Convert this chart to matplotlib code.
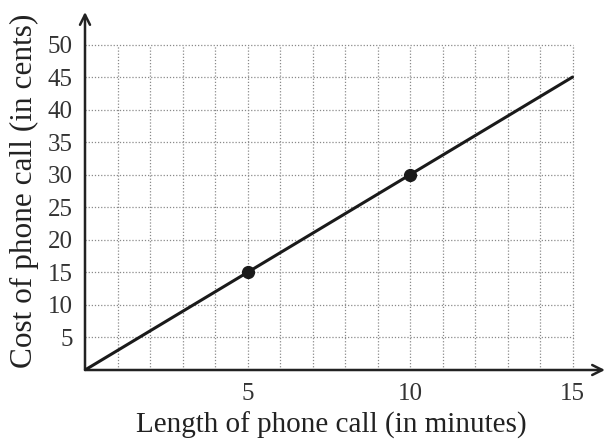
import matplotlib
matplotlib.use("Agg")
import matplotlib.pyplot as plt

plt.rcParams['font.family'] = ['Liberation Serif', 'DejaVu Serif']

minutes = [0, 15]
cost = [0, 45]
point_minutes = [5, 10]
point_cost = [15, 30]
x_ticks = [5, 10, 15]
y_ticks = [5, 10, 15, 20, 25, 30, 35, 40, 45, 50]
x_grid = list(range(1, 16))
y_grid = [5, 10, 15, 20, 25, 30, 35, 40, 45, 50]

fig = plt.figure(figsize=(6.06, 4.40), dpi=100)
ax = fig.add_axes([85/606, 70/440, 520/606, 358/440])
ax.set_xlim(0, 16)
ax.set_ylim(0, 55)
for s in ax.spines.values():
    s.set_visible(False)

gc = '#8a8a8a'
ax.vlines(x_grid, 0, 50, colors=gc, linestyles=(0, (1, 1.5)), linewidth=0.9, zorder=1)
ax.hlines(y_grid, 0, 15, colors=gc, linestyles=(0, (1, 1.5)), linewidth=0.9, zorder=1)

# axes with arrows
ax.annotate('', xy=(16, 0), xytext=(0, 0), xycoords='data',
            arrowprops=dict(arrowstyle='->', color='#222222', lw=1.8, mutation_scale=18,
                            shrinkA=0, shrinkB=0), annotation_clip=False)
ax.annotate('', xy=(0, 55), xytext=(0, 0), xycoords='data',
            arrowprops=dict(arrowstyle='->', color='#222222', lw=1.8, mutation_scale=18,
                            shrinkA=0, shrinkB=0), annotation_clip=False)

ax.plot(minutes, cost, color='#1a1a1a', lw=2.2, zorder=3, solid_capstyle='round')
ax.plot(point_minutes, point_cost, 'o', color='#1a1a1a', ms=8.5, zorder=4)

ax.set_xticks(x_ticks)
ax.set_yticks(y_ticks)
ax.set_xticklabels([str(v) for v in x_ticks])
ax.set_yticklabels([str(v) for v in y_ticks])
ax.tick_params(axis='both', length=0, labelsize=18, colors='#333333')
ax.tick_params(axis='x', pad=9)
ax.tick_params(axis='y', pad=9)

ax.set_xlabel('Length of phone call (in minutes)', fontsize=21, color='#222222')
ax.xaxis.set_label_coords(0.473, -0.116)
ax.set_ylabel('Cost of phone call (in cents)', fontsize=22.5, color='#222222')
ax.yaxis.set_label_coords(-0.088, 0.5)

fig.savefig('out.png', dpi=100)
